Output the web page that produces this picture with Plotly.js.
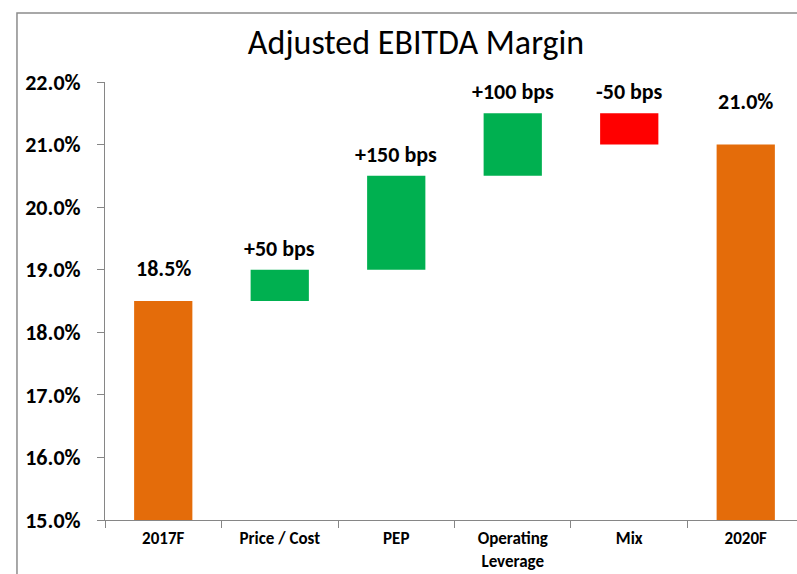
<!DOCTYPE html>
<html>
<head>
<meta charset="utf-8">
<script src="https://cdn.plot.ly/plotly-3.0.1.min.js"></script>
<style>
  html, body { margin: 0; padding: 0; background: #ffffff; }
  #chart { width: 797px; height: 574px; }
</style>
</head>
<body>
<div id="chart"></div>
<script>
// ---- data ----
const categories = ['2017F', 'Price / Cost', 'PEP', 'Operating<br>Leverage', 'Mix', '2020F'];
const measures = ['absolute', 'relative', 'relative', 'relative', 'relative', 'total'];
const values = [18.5, 0.5, 1.5, 1.0, -0.5, 21.0];
const barLabels = ['18.5%', '+50 bps', '+150 bps', '+100 bps', '-50 bps', '21.0%'];
const yTickValues = [15, 16, 17, 18, 19, 20, 21, 22];
const chartTitle = 'Adjusted EBITDA Margin';

// ---- style ----
const FONT = "Carlito, Calibri, 'Liberation Sans', Arial, sans-serif";
const labelLift = [17, 6, 6, 6, 6, 28];
const axisGray = '#868686';

// compute bar tops for labels from the data
let running = 0;
const tops = [];
for (let i = 0; i < values.length; i++) {
  let top;
  if (measures[i] === 'absolute') { running = values[i]; top = running; }
  else if (measures[i] === 'relative') { const s = running; running += values[i]; top = Math.max(s, running); }
  else { top = running; }
  tops.push(top);
}

const trace = {
  type: 'waterfall',
  x: categories,
  y: values,
  measure: measures,
  connector: { visible: false },
  increasing: { marker: { color: '#00B050' } },
  decreasing: { marker: { color: '#FF0000' } },
  totals: { marker: { color: '#E46C0A' } },
  hoverinfo: 'skip',
  textinfo: 'none'
};

const annotations = categories.map((c, i) => ({
  x: c, y: tops[i], xref: 'x', yref: 'y',
  text: barLabels[i], showarrow: false,
  yanchor: 'bottom', yshift: labelLift[i],
  font: { family: FONT, size: 22, color: '#000000', weight: 700 }
}));

const layout = {
  width: 797, height: 574,
  margin: { l: 105, r: 0, t: 82, b: 54 },
  paper_bgcolor: '#ffffff', plot_bgcolor: '#ffffff',
  showlegend: false,
  waterfallgap: 0.5,
  title: {
    text: chartTitle,
    font: { family: FONT, size: 34, color: '#000000' },
    xref: 'container', yref: 'container',
    x: 0.522, xanchor: 'center',
    y: 0.926, yanchor: 'middle'
  },
  xaxis: {
    type: 'category',
    range: [-0.5, 5.44],
    showline: true, linecolor: axisGray, linewidth: 1,
    ticks: 'outside', tickson: 'boundaries', ticklen: 7, tickcolor: axisGray,
    ticklabelstandoff: 3,
    showgrid: false, zeroline: false,
    tickfont: { family: FONT, size: 17, color: '#000000', weight: 700 },
    fixedrange: true
  },
  yaxis: {
    range: [15, 22],
    tickvals: yTickValues,
    ticktext: yTickValues.map(v => v.toFixed(1) + '%'),
    showline: true, linecolor: axisGray, linewidth: 1,
    ticks: 'outside', ticklen: 7, tickcolor: axisGray,
    ticklabelstandoff: 12,
    showgrid: false, zeroline: false,
    tickfont: { family: FONT, size: 22, color: '#000000', weight: 700 },
    fixedrange: true
  },
  annotations: annotations,
  shapes: [{
    type: 'rect', xref: 'paper', yref: 'paper',
    x0: -0.1272, x1: 1.3, y0: -0.4, y1: 1.1575,
    line: { color: '#8c8c8c', width: 1.5 },
    fillcolor: 'rgba(0,0,0,0)', layer: 'below'
  }]
};

Plotly.newPlot('chart', [trace], layout, { displayModeBar: false, staticPlot: true });
</script>
</body>
</html>
